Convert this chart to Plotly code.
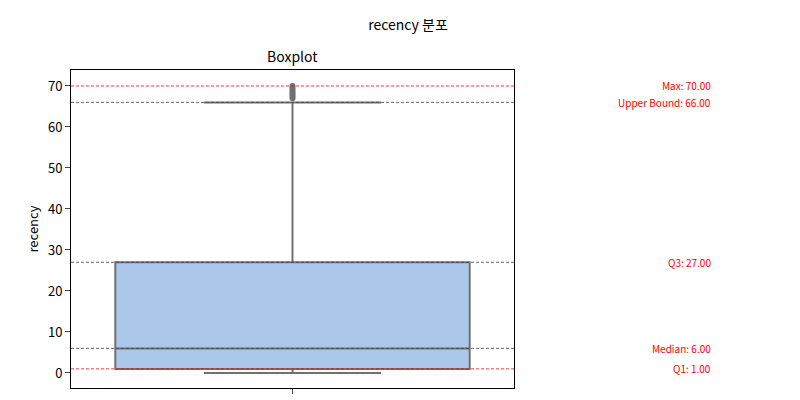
import plotly.graph_objects as go

# box stats of recency
q1 = [1.0]
median = [6.0]
q3 = [27.0]
lower = [0.0]
upper = [66.0]
outliers = [67, 67.5, 68, 68.5, 69, 69.5, 70]

# reference lines (label, value, colour)
ref_labels = ["Max", "Upper Bound", "Q3", "Median", "Q1"]
ref_values = [70.0, 66.0, 27.0, 6.0, 1.0]
ref_colors = ["red", "#444444", "#444444", "#444444", "red"]

font = "Noto Sans CJK KR, DejaVu Sans, sans-serif"

fig = go.Figure()
fig.add_trace(go.Box(x=[0], q1=q1, median=median, q3=q3,
                     lowerfence=lower, upperfence=upper,
                     fillcolor="#abc8eb", line=dict(color="#707070", width=2),
                     width=0.8, whiskerwidth=0.5, boxpoints=False,
                     hoverinfo="skip"))
fig.add_trace(go.Scatter(x=[0] * len(outliers), y=outliers, mode="markers",
                         marker=dict(color="#707070", size=6), hoverinfo="skip"))

for lab, v, c in zip(ref_labels, ref_values, ref_colors):
    fig.add_hline(y=v, line=dict(color=c, width=0.8, dash="3px,2px"))
    fig.add_annotation(x=1.449, xref="paper", y=v, yref="y", text=f"{lab}: {v:.2f}",
                       showarrow=False, xanchor="right", yanchor="middle",
                       font=dict(color="red", size=10, family=font))

fig.add_annotation(x=0.5, xref="paper", y=1.0, yref="paper", text="Boxplot",
                   showarrow=False, yanchor="bottom", yshift=2,
                   font=dict(size=14, family=font, color="black"))

fig.update_layout(
    width=800, height=400, showlegend=False,
    plot_bgcolor="white", paper_bgcolor="white",
    margin=dict(l=63, r=294, t=62, b=20, autoexpand=False),
    font=dict(family=font, color="black"),
    title=dict(text="recency 분포", x=0.5, xanchor="center", y=0.9575, yanchor="middle",
               font=dict(size=14)),
)
fig.update_xaxes(range=[-0.5, 0.5], tickvals=[0], ticktext=[""], ticks="outside",
                 showgrid=False, zeroline=False, showline=True, linecolor="black", mirror=True,
                 automargin=False)
fig.update_yaxes(range=[-3.66, 73.9], tickvals=[0, 10, 20, 30, 40, 50, 60, 70], ticks="outside",
                 showgrid=False, zeroline=False, showline=True, linecolor="black", mirror=True,
                 title=dict(text="recency", standoff=6, font=dict(size=13)), tickfont=dict(size=13),
                 automargin=False)

fig.write_html("out.html")
